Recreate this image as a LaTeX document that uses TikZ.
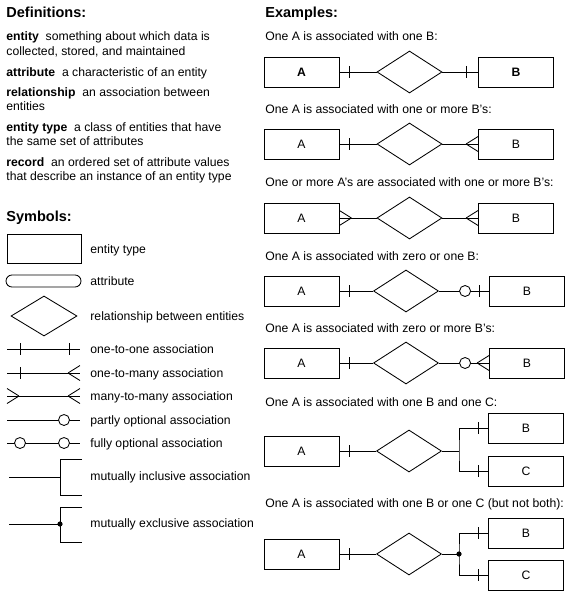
\documentclass[tikz,border=0pt]{standalone}
\usepackage{fontspec}
\setmainfont{Liberation Sans}
\usetikzlibrary{shapes.geometric}

\tikzset{
  entity/.style={draw, minimum width=75pt, minimum height=30pt, inner sep=0pt,
    font=\fontsize{12.2}{14}\selectfont},
  relation/.style={draw, diamond, minimum width=65pt, minimum height=42pt, inner sep=0pt},
  txt/.style={anchor=base west, inner sep=0pt, font=\fontsize{12.2}{14}\selectfont},
  head/.style={anchor=base west, inner sep=0pt, font=\fontsize{14.5}{16}\selectfont\bfseries},
  onebar/.pic={\draw (0,-6) -- (0,6);},
  ring/.pic={\draw[fill=white] (0,0) circle (5.5pt);},
  crow/.pic={\draw (-12,0) -- (0,-7.5) (-12,0) -- (0,7.5);},
}

\begin{document}
\begin{tikzpicture}[x=1pt, y=-1pt, line width=0.85pt]
  \useasboundingbox (0,0) rectangle (587,602);

  % definitions
  \node[head] (defs) at (6,18) {Definitions:};
  \foreach \y/\t in {41/{\textbf{entity}\ \ something about which data is},
                     55.5/{collected, stored, and maintained},
                     76/{\textbf{attribute}\ \ a characteristic of an entity},
                     96.5/{\textbf{relationship}\ \ an association between},
                     110.5/{entities},
                     131/{\textbf{entity type}\ \ a class of entities that have},
                     145/{the same set of attributes},
                     166/{\textbf{record}\ \ an ordered set of attribute values},
                     180/{that describe an instance of an entity type}}
    \node[txt] at (6,\y) {\t};

  % symbols
  \node[head] (syms) at (6,221) {Symbols:};
  \node[entity, minimum width=74pt, minimum height=29pt] (sent) at (44,248.5) {};
  \node[draw, rounded corners=6pt, minimum width=75pt, minimum height=12pt, inner sep=0pt] (satt) at (43.5,281) {};
  \node[relation, minimum width=66pt, minimum height=40pt] (srel) at (44,316) {};
  \foreach \y/\t in {253/entity type, 285/attribute, 320/relationship between entities,
                     353/one-to-one association, 377/one-to-many association,
                     400/many-to-many association, 424/partly optional association,
                     447/fully optional association, 480/mutually inclusive association,
                     527/mutually exclusive association}
    \node[txt] at (90,\y) {\t};

  \draw (7,349) -- (80,349);
  \path (20,349) pic{onebar} (69,349) pic{onebar};
  \draw (7,373) -- (80,373);
  \path (20,373) pic{onebar} (80,373) pic{crow};
  \draw (7,396) -- (80,396);
  \path (7,396) pic[rotate=180]{crow} (80,396) pic{crow};
  \draw (7,420) -- (80,420);
  \path (64,420) pic{ring};
  \draw (7,443) -- (80,443);
  \path (20,443) pic{ring} (64,443) pic{ring};
  \draw (9,477) -- (60,477) (82,459) -| (60,495) -- (82,495);
  \draw (9,524) -- (60,524) (82,507) -| (60,542) -- (82,542);
  \fill (60,524) circle (2.6pt);

  % examples
  \node[head] (exs) at (265,18) {Examples:};
  \foreach \y/\t in {41/{One A is associated with one B:},
                     113/{One A is associated with one or more B's:},
                     186/{One or more A's are associated with one or more B's:},
                     260/{One A is associated with zero or one B:},
                     332/{One A is associated with zero or more B's:},
                     406/{One A is associated with one B and one C:},
                     507/{One A is associated with one B or one C (but not both):}}
    \node[txt] at (265,\y) {\t};

  % one to one
  \node[entity, font=\fontsize{12.2}{14}\selectfont\bfseries] (a1) at (301.5,72) {A};
  \node[relation] (r1) at (409.5,72) {};
  \node[entity, font=\fontsize{12.2}{14}\selectfont\bfseries] (b1) at (516,72) {B};
  \draw (a1) -- (r1) -- (b1);
  \path (a1.east) ++(10,0) pic{onebar} (b1.west) ++(-12,0) pic{onebar};

  % one to many
  \node[entity] (a2) at (301.5,144) {A};
  \node[relation] (r2) at (409.5,144) {};
  \node[entity] (b2) at (516,144) {B};
  \draw (a2) -- (r2) -- (b2);
  \path (a2.east) ++(10,0) pic{onebar} (b2.west) pic{crow};

  % many to many
  \node[entity] (a3) at (301.5,218) {A};
  \node[relation] (r3) at (409.5,218) {};
  \node[entity] (b3) at (516,218) {B};
  \draw (a3) -- (r3) -- (b3);
  \path (a3.east) pic[rotate=180]{crow} (b3.west) pic{crow};

  % zero or one
  \node[entity] (a4) at (301.5,291) {A};
  \node[relation] (r4) at (406,291) {};
  \node[entity] (b4) at (527,291) {B};
  \draw (a4) -- (r4) -- (b4);
  \path (a4.east) ++(10,0) pic{onebar} (b4.west) ++(-10,0) pic{onebar}
        (b4.west) ++(-24,0) pic{ring};

  % zero or more
  \node[entity] (a5) at (301.5,363) {A};
  \node[relation] (r5) at (406,363) {};
  \node[entity] (b5) at (527,363) {B};
  \draw (a5) -- (r5) -- (b5);
  \path (a5.east) ++(10,0) pic{onebar} (b5.west) pic{crow}
        (b5.west) ++(-24,0) pic{ring};

  % B and C
  \node[entity] (a6) at (301.5,451) {A};
  \node[relation] (r6) at (409,451) {};
  \node[entity] (b6) at (526,428) {B};
  \node[entity] (c6) at (526,471) {C};
  \coordinate (j6) at (459,451);
  \draw (a6) -- (r6) -- (j6);
  \draw (b6.west) -| (j6) |- (c6.west);
  \path (a6.east) ++(10,0) pic{onebar} (b6.west) ++(-10,0) pic{onebar}
        (c6.west) ++(-10,0) pic{onebar};

  % B or C
  \node[entity] (a7) at (301.5,554) {A};
  \node[relation] (r7) at (409,554) {};
  \node[entity] (b7) at (526,533) {B};
  \node[entity] (c7) at (526,575) {C};
  \coordinate (j7) at (459,554);
  \draw (a7) -- (r7) -- (j7);
  \draw (b7.west) -| (j7) |- (c7.west);
  \fill (j7) circle (2.6pt);
  \path (a7.east) ++(10,0) pic{onebar} (b7.west) ++(-10,0) pic{onebar}
        (c7.west) ++(-10,0) pic{onebar};
\end{tikzpicture}
\end{document}
